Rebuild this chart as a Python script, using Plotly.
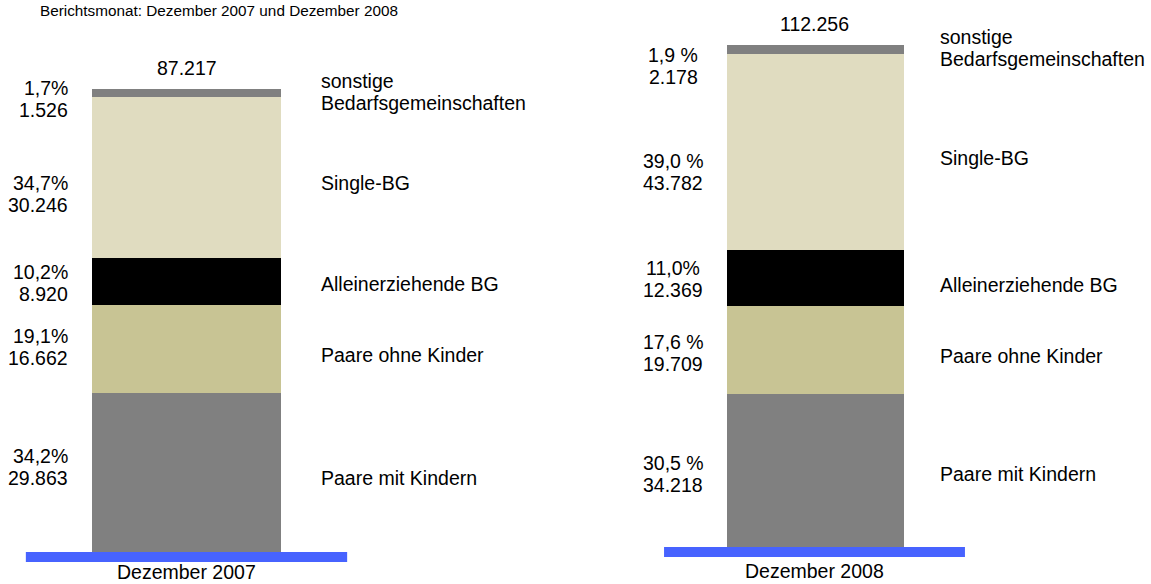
import plotly.graph_objects as go

# ---- data ----
months = ["Dezember 2007", "Dezember 2008"]
segments = ["Paare mit Kindern", "Paare ohne Kinder", "Alleinerziehende BG",
            "Single-BG", "sonstige<br>Bedarfsgemeinschaften"]
values_2007 = [29863, 16662, 8920, 30246, 1526]
values_2008 = [34218, 19709, 12369, 43782, 2178]
pct_2007 = ["34,2%", "19,1%", "10,2%", "34,7%", "1,7%"]
pct_2008 = ["30,5 %", "17,6 %", "11,0%", "39,0 %", "1,9 %"]
title_text = "Berichtsmonat: Dezember 2007 und Dezember 2008"

# ---- style ----
colors = ["#808080", "#C8C494", "#000000", "#E0DCC0", "#808080"]
FONT = "Liberation Sans, Arial, sans-serif"
FS = 19.5
LINE = 11  # half line spacing in px
val_shift = [[6, 2, -2, -17, -6], [-4, -3, -1, -20, -16]]
cat_shift = [[-5, -6, -3, -6, 1], [-4, -6, -7, -6, 2]]
month_shift = [-20, -24]


def de(v):
    return f"{v:,}".replace(",", ".")


def two_lines(lines, **kw):
    """Place lines of text as separate annotations with tight line spacing."""
    base = kw.pop("yshift", 0)
    n = len(lines)
    for k, t in enumerate(lines):
        off = (n - 1) * LINE - 2 * LINE * k
        fig.add_annotation(text=t, yshift=base + off, showarrow=False, **kw)


fig = go.Figure()
panels = [(values_2007, pct_2007, "x", "y"), (values_2008, pct_2008, "x2", "y2")]
for p, (vals, pcts, xa, ya) in enumerate(panels):
    for i, (seg, v) in enumerate(zip(segments, vals)):
        fig.add_trace(go.Bar(
            x=[0], y=[v], width=1, xaxis=xa, yaxis=ya,
            marker=dict(color=colors[i], line=dict(width=0)),
            name=seg.replace("<br>", " "), showlegend=False, hoverinfo="skip"))
    cum = 0
    for i, v in enumerate(vals):
        mid = cum + v / 2
        cum += v
        if p == 0:
            two_lines([pcts[i], de(v)], x=-0.5, y=mid, xref=xa, yref=ya,
                      xanchor="right", yanchor="middle", xshift=-22,
                      yshift=val_shift[p][i])
        else:
            two_lines([pcts[i], de(v)], x=-0.5, y=mid, xref=xa, yref=ya,
                      xanchor="center", yanchor="middle", xshift=-53,
                      yshift=val_shift[p][i])
        two_lines(segments[i].split("<br>"), x=0.5, y=mid, xref=xa, yref=ya,
                  xanchor="left", yanchor="middle", xshift=38 if p == 0 else 35,
                  yshift=cat_shift[p][i])
    fig.add_annotation(x=0, y=cum, xref=xa, yref=ya, xanchor="center",
                       yanchor="middle", yshift=21, text=de(cum), showarrow=False)
    fig.add_annotation(x=0, y=0, xref=xa, yref=ya, xanchor="center",
                       yanchor="middle", yshift=month_shift[p], text=months[p],
                       borderpad=0, showarrow=False)
    # blue base line
    fig.add_shape(type="rect", xref=xa, yref=ya, x0=-0.85, x1=0.85,
                  ysizemode="pixel", yanchor=0, y0=-10, y1=0,
                  fillcolor="#4763FF", line=dict(width=0), layer="above")

axis_common = dict(showgrid=False, zeroline=False, showline=False,
                   showticklabels=False, ticks="")
fig.update_layout(
    width=1151, height=584,
    margin=dict(l=0, r=0, t=0, b=0),
    paper_bgcolor="white", plot_bgcolor="white",
    barmode="stack", bargap=0,
    font=dict(family=FONT, size=FS, color="#000000"),
    title=dict(text=title_text, x=40 / 1151, xanchor="left", y=1 - 11 / 584,
               yanchor="middle", font=dict(family=FONT, size=15.3, color="#000000")),
    xaxis=dict(domain=[0, 0.5], range=[-0.98677, 2.0582], anchor="y", **axis_common),
    yaxis=dict(domain=[0, 1], range=[-6028, 103982], anchor="x", **axis_common),
    xaxis2=dict(domain=[0.5, 1], range=[-1.35028, 1.90113], anchor="y2", **axis_common),
    yaxis2=dict(domain=[0, 1], range=[-8269, 122246], anchor="x2", **axis_common),
)

fig.write_html("out.html", config={"displayModeBar": False},
               post_script="document.body.style.margin='0';document.body.style.overflow='hidden';")
